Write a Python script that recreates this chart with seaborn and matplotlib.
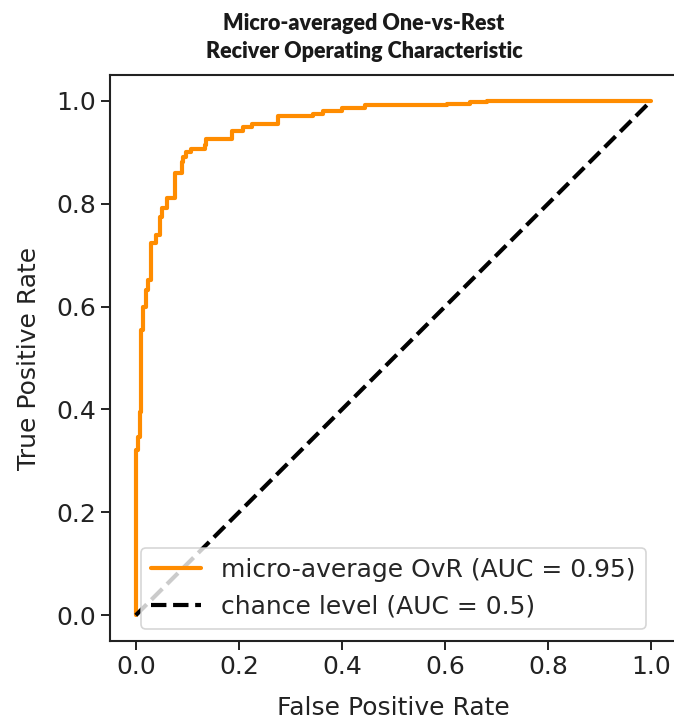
import matplotlib
matplotlib.use("Agg")
import matplotlib.pyplot as plt
import seaborn as sns
import pandas as pd

# Micro-averaged ROC curve: corner points where the true positive rate rises
fpr = [0.0, 0.0, 0.0045, 0.008, 0.011, 0.014, 0.019, 0.024, 0.030, 0.040,
       0.047, 0.050, 0.060, 0.076, 0.089, 0.092, 0.098, 0.108, 0.134, 0.137,
       0.186, 0.208, 0.225, 0.275, 0.344, 0.364, 0.400, 0.445, 0.603, 0.649,
       0.681, 1.0]
tpr = [0.0, 0.321, 0.346, 0.395, 0.554, 0.600, 0.632, 0.651, 0.723, 0.739,
       0.774, 0.791, 0.810, 0.859, 0.881, 0.891, 0.901, 0.907, 0.914, 0.925,
       0.942, 0.949, 0.955, 0.970, 0.975, 0.980, 0.985, 0.991, 0.994, 0.997,
       1.0, 1.0]
chance_x = [0.0, 1.0]
chance_y = [0.0, 1.0]

roc_label = "micro-average OvR (AUC = 0.95)"
chance_label = "chance level (AUC = 0.5)"
title_lines = ["Micro-averaged One-vs-Rest", "Reciver Operating Characteristic"]
ticks = [0.0, 0.2, 0.4, 0.6, 0.8, 1.0]

sns.set_theme(style="ticks")
plt.rcParams["font.family"] = "sans-serif"
plt.rcParams["font.sans-serif"] = ["DejaVu Sans"]
BODY = "DejaVu Sans"

roc = pd.DataFrame({"fpr": fpr, "tpr": tpr})
chance = pd.DataFrame({"x": chance_x, "y": chance_y})

fig = plt.figure(figsize=(6.74, 7.24), dpi=100)
ax = fig.add_axes([110 / 674, 83 / 724, 567 / 674, 566 / 724])

sns.lineplot(data=roc, x="fpr", y="tpr", ax=ax, estimator=None, sort=False,
             drawstyle="steps-post", color="darkorange", linewidth=3,
             label=roc_label)
sns.lineplot(data=chance, x="x", y="y", ax=ax, estimator=None, sort=False,
             color="black", linestyle="--", linewidth=3, label=chance_label)

ax.set_xlim(-0.05, 1.05)
ax.set_ylim(-0.05, 1.05)
ax.set_xticks(ticks)
ax.set_yticks(ticks)
ax.set_xticklabels([f"{t:.1f}" for t in ticks], family=BODY, fontsize=18)
ax.set_yticklabels([f"{t:.1f}" for t in ticks], family=BODY, fontsize=18)
ax.tick_params(length=6.5, width=1.4, color="#222222", labelcolor="#222222")
for s in ax.spines.values():
    s.set_linewidth(1.5)
    s.set_color("#222222")
    s.set_visible(True)

ax.set_xlabel("False Positive Rate", fontsize=18, family=BODY,
              color="#222222", labelpad=12)
ax.set_ylabel("True Positive Rate", fontsize=18, family=BODY,
              color="#222222", labelpad=11)

leg = ax.legend(loc="lower center", frameon=True, framealpha=0.8,
                edgecolor="#cccccc", fancybox=True,
                prop={"family": BODY, "size": 18})
leg.get_frame().set_linewidth(1.2)

for line, ypx in zip(title_lines, [23, 52]):
    fig.text(364 / 674, 1 - ypx / 724, line, ha="center", va="center",
             fontsize=15.5, fontweight="heavy",
             family=["Lato", "DejaVu Sans"], color="#1a1a1a")

fig.savefig("out.png", dpi=100)
